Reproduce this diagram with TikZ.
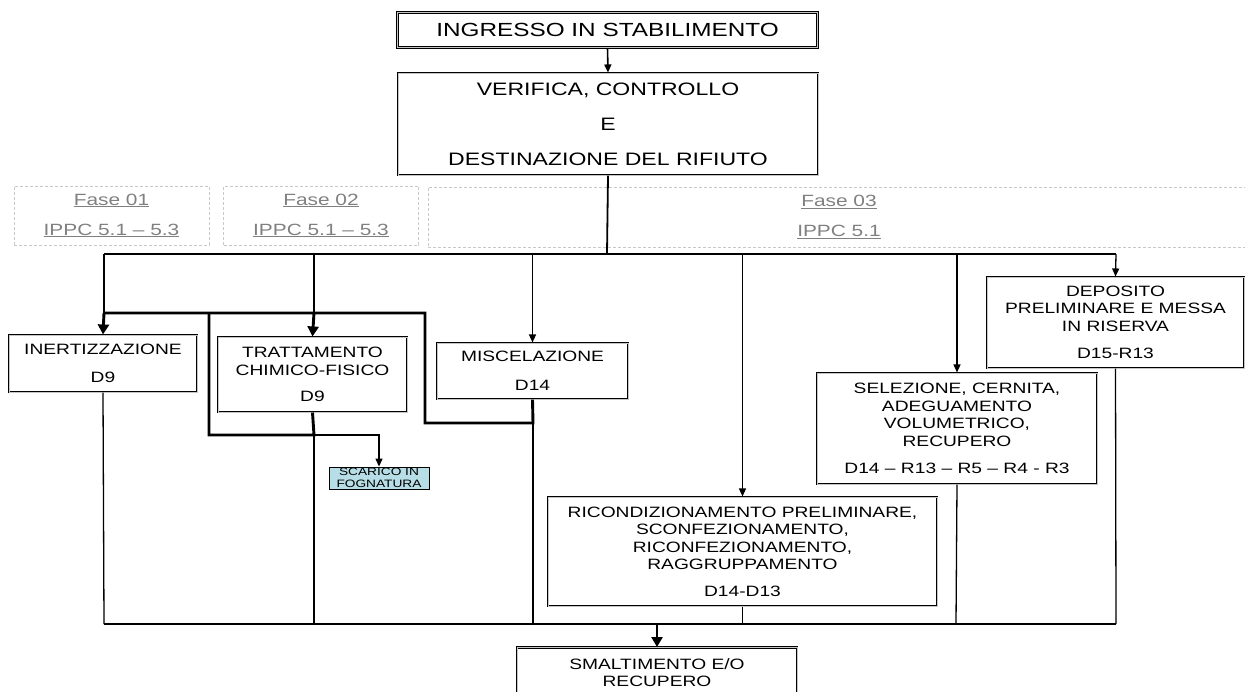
\documentclass[tikz,border=0pt]{standalone}
\usepackage{fontspec}
\setmainfont{Liberation Sans}[FakeStretch=1.28]
\usetikzlibrary{arrows.meta}
\definecolor{scaricofill}{RGB}{183,222,230}
\definecolor{fasegray}{RGB}{128,128,128}
\definecolor{dashgray}{RGB}{200,200,200}
\tikzset{
  box/.style={draw=black, line width=1.1pt, double=gray!45, double distance=0.6pt, fill=white,
    inner sep=0pt, align=center, font=\fontsize{15}{17.5}\selectfont},
  fasebox/.style={draw=dashgray, dash pattern=on 3pt off 2pt, line width=0.8pt, inner sep=0pt,
    align=center, text=fasegray, font=\fontsize{16.3}{30}\selectfont},
  conn/.style={draw=black, line width=1.3pt},
  busline/.style={draw=black, line width=1.8pt},
  thickline/.style={draw=black, line width=2.9pt},
  arr/.style={conn, -{Triangle[length=8pt,width=7pt]}},
  thickarr/.style={thickline, -{Triangle[length=10pt,width=11pt]}},
  smallbox/.style={draw=black, line width=0.9pt, fill=scaricofill, inner sep=0pt, align=center,
    font=\fontsize{10.7}{11.5}\selectfont},
}
\begin{document}
\begin{tikzpicture}[x=1pt,y=-1pt]
\useasboundingbox (0,0) rectangle (1245,691);
\clip (0,0) rectangle (1245,691);

% main boxes
\node[box, line width=1.3pt, minimum width=420pt, minimum height=35pt, font=\fontsize{19}{22}\selectfont] (ingresso) at (607.5,30) {INGRESSO IN STABILIMENTO};
\node[box, minimum width=420pt, minimum height=102pt, font=\fontsize{18}{35}\selectfont] (verifica) at (608,124) {VERIFICA, CONTROLLO\\E\\DESTINAZIONE DEL RIFIUTO};

% phase boxes
\node[fasebox, minimum width=195pt, minimum height=59pt] (fase1) at (111.5,215.5) {\underline{Fase 01}\\\underline{IPPC 5.1 – 5.3}};
\node[fasebox, minimum width=195pt, minimum height=59pt] (fase2) at (321,215.5) {\underline{Fase 02}\\\underline{IPPC 5.1 – 5.3}};
\node[fasebox, minimum width=822pt, minimum height=60pt] (fase3) at (839,217) {\underline{Fase 03}\\\underline{IPPC 5.1}};

% process boxes
\node[box, minimum width=188pt, minimum height=57pt] (inert) at (103,363.5) {INERTIZZAZIONE\\[10pt]D9};
\node[box, minimum width=189pt, minimum height=75pt] (tratt) at (312.5,374.5) {TRATTAMENTO\\CHIMICO-FISICO\\[9pt]D9};
\node[box, minimum width=191pt, minimum height=56pt] (misc) at (532.5,371) {MISCELAZIONE\\[11pt]D14};
\node[box, minimum width=257pt, minimum height=91pt] (depo) at (1115.5,322.5) {DEPOSITO\\PRELIMINARE E MESSA\\IN RISERVA\\[10pt]D15-R13};
\node[box, minimum width=280pt, minimum height=111pt] (selez) at (957,428.5) {SELEZIONE, CERNITA,\\ADEGUAMENTO\\VOLUMETRICO,\\RECUPERO\\[10pt]D14 – R13 – R5 – R4 - R3};
\node[box, minimum width=389pt, minimum height=109pt] (ricond) at (742.5,551.5) {RICONDIZIONAMENTO PRELIMINARE,\\SCONFEZIONAMENTO,\\RICONFEZIONAMENTO,\\RAGGRUPPAMENTO\\[9pt]D14-D13};
\node[box, minimum width=280pt, minimum height=50pt, anchor=north] (smalt) at (657,647) {SMALTIMENTO E/O\\RECUPERO};
\node[smallbox, minimum width=100pt, minimum height=22pt] (scarico) at (379,478) {SCARICO IN\\FOGNATURA};

% coordinates of the routing
\coordinate (hub) at (607,254);
\coordinate (busL) at (104,254);
\coordinate (busR) at (1116,254);
\coordinate (tL) at (104,313);
\coordinate (tM) at (314,313);
\coordinate (tLoop) at (209,313);
\coordinate (tR) at (425,313);
\coordinate (loopA) at (314,435);
\coordinate (loopB) at (209,435);
\coordinate (mixA) at (533,423);
\coordinate (mixB) at (425,423);
\coordinate (scarT) at (379,435);
\coordinate (colL) at (104,624);
\coordinate (colR) at (1116,624);
\coordinate (colS) at (657,624);
\coordinate (colSel) at (956,624);

% top connectors
\draw[arr, line width=1.6pt] (ingresso.south) -- (verifica.north);
\draw[busline] (verifica.south) -- (hub);
\draw[busline] (busL) -- (hub) -- (956,254);
\draw[conn] (956,254) -- (busR);

% branches
\draw[conn] (busL) -- (tL);
\draw[conn] (tM |- busL) -- (tM);
\draw[arr] (misc.north |- busL) -- (misc.north);
\draw[arr] (ricond.north |- busL) -- (ricond.north);
\draw[arr] (selez.north |- busL) -- (selez.north);
\draw[arr] (busR) -- (depo.north);

% thick routes
\draw[thickline] (misc.south) -- (mixA) -- (mixB) -- (tR) -- (tL);
\draw[thickline] (tratt.south) -- (loopA) -- (loopB) -- (tLoop);
\draw[thickarr] (tL) -- (inert.north);
\draw[thickarr] (tM) -- (tratt.north);

% scarico
\draw[arr] (loopA) -- (scarT) -- (scarico.north);

% downward lines to collector
\draw[conn] (inert.south) -- (colL);
\draw[conn] (loopA) -- (loopA |- colL);
\draw[conn] (mixA) -- (mixA |- colL);
\draw[conn] (ricond.south) -- (ricond.south |- colL);
\draw[conn] (selez.south) -- (colSel);
\draw[conn] (depo.south) -- (colR);
\draw[conn] (colL) -- (colR);
\draw[busline] (colS) -- (colSel);
\draw[thickarr] (colS) -- (smalt.north);
\end{tikzpicture}
\end{document}
